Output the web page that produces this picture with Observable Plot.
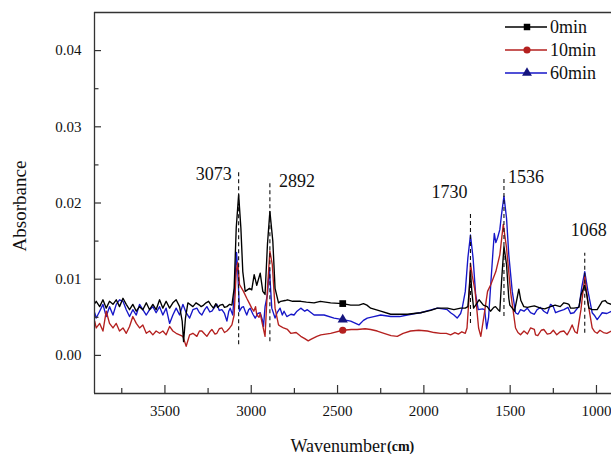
<!DOCTYPE html>
<html><head><meta charset="utf-8">
<script src="https://cdn.jsdelivr.net/npm/d3@7"></script>
<script src="https://cdn.jsdelivr.net/npm/@observablehq/plot@0.6"></script>
<style>
body{margin:0;background:#fff;}
#chart{width:611px;height:454px;}
#chart svg, #chart svg text{font-family:"Liberation Serif","DejaVu Serif","Times New Roman",Times,serif !important;}
</style>
</head><body><div id="chart"></div>
<script>
const seriesNames = ["0min", "10min", "60min"];
const seriesColors = ["#000000", "#b4201f", "#1616c8"];
const markerColors = ["#000000", "#b4201f", "#14147e"];
const seriesSymbols = ["square", "circle", "triangle"];
const markerWn = 2470;

const wn0 = [3907,3898,3878,3859,3840,3821,3801,3782,3763,3743,3724,3705,3686,3666,3647,3628,3608,3589,3570,3551,3531,3512,3493,3473,3454,3435,3415,3400,3392,3381,3367,3338,3320,3300,3290,3276,3262,3247,3233,3219,3205,3195,3180,3165,3155,3141,3125,3112,3099,3087,3073,3060,3049,3035,3010,2997,2983,2968,2948,2933,2920,2906,2892,2875,2862,2842,2829,2804,2790,2760,2713,2680,2636,2600,2540,2470,2424,2376,2350,2330,2308,2250,2192,2140,2096,2019,1960,1922,1903,1864,1845,1826,1787,1760,1745,1738,1730,1722,1712,1700,1680,1655,1633,1614,1595,1585,1570,1560,1550,1536,1521,1508,1502,1488,1475,1460,1450,1438,1421,1400,1382,1360,1324,1300,1266,1240,1210,1189,1170,1160,1150,1131,1102,1089,1068,1055,1044,1025,996,980,967,950,938,913];
const ab0 = [.0068,.0071,.0064,.0073,.0062,.0071,.0067,.0073,.0064,.0075,.0067,.0060,.0067,.0058,.0064,.0060,.0069,.0060,.0067,.0060,.0073,.0062,.0071,.0062,.0069,.0073,.0064,.0045,.0018,.0049,.0069,.0064,.0069,.0066,.0064,.0066,.0069,.0071,.0066,.0062,.0068,.0063,.0066,.0067,.0063,.0064,.0067,.0066,.0088,.0167,.0211,.0167,.0110,.0084,.0088,.0086,.0106,.0092,.0108,.0084,.0080,.0146,.0189,.0150,.0088,.0069,.0071,.0072,.0073,.0071,.0071,.0070,.0069,.0071,.0069,.0068,.0066,.0066,.0068,.0066,.0062,.0058,.0054,.0054,.0054,.0056,.0059,.0062,.0062,.0062,.0061,.0060,.0062,.0062,.0064,.0084,.0110,.0084,.0062,.0066,.0073,.0066,.0064,.0058,.0063,.0064,.0060,.0058,.0097,.0143,.0119,.0075,.0066,.0062,.0058,.0075,.0087,.0072,.0064,.0063,.0064,.0065,.0062,.0061,.0064,.0066,.0064,.0069,.0068,.0067,.0062,.0062,.0063,.0080,.0092,.0078,.0062,.0060,.0060,.0066,.0071,.0072,.0069,.0067];

const wn10 = [3907,3898,3878,3859,3840,3821,3801,3782,3763,3743,3724,3705,3686,3666,3647,3628,3608,3589,3570,3551,3531,3512,3493,3473,3454,3435,3415,3396,3377,3357,3338,3315,3300,3286,3270,3257,3240,3228,3210,3199,3185,3170,3155,3141,3125,3112,3099,3087,3078,3068,3045,3026,3010,2997,2985,2975,2968,2955,2948,2939,2920,2906,2892,2878,2862,2842,2829,2813,2790,2771,2740,2713,2690,2670,2655,2620,2597,2540,2470,2420,2386,2340,2308,2270,2231,2190,2154,2120,2077,2030,1980,1940,1903,1870,1845,1820,1800,1780,1760,1750,1740,1730,1720,1703,1683,1670,1651,1631,1612,1583,1560,1540,1521,1498,1469,1455,1440,1420,1400,1382,1360,1353,1340,1320,1305,1285,1266,1250,1230,1210,1189,1170,1155,1141,1125,1112,1090,1068,1050,1025,1010,996,980,960,940,913];
const ab10 = [.0045,.0036,.0042,.0032,.0058,.0042,.0036,.0042,.0032,.0036,.0029,.0038,.0051,.0042,.0036,.0040,.0029,.0032,.0027,.0032,.0029,.0032,.0027,.0038,.0032,.0029,.0027,.0025,.0012,.0027,.0029,.0025,.0032,.0032,.0028,.0025,.0031,.0034,.0028,.0029,.0035,.0036,.0030,.0032,.0036,.0040,.0053,.0110,.0122,.0093,.0084,.0075,.0068,.0062,.0058,.0064,.0053,.0050,.0055,.0045,.0025,.0088,.0137,.0119,.0062,.0040,.0038,.0036,.0034,.0029,.0030,.0025,.0022,.0019,.0021,.0025,.0027,.0029,.0033,.0034,.0034,.0035,.0034,.0032,.0029,.0026,.0025,.0029,.0032,.0033,.0032,.0030,.0029,.0029,.0027,.0030,.0028,.0031,.0029,.0036,.0070,.0121,.0105,.0084,.0036,.0025,.0053,.0084,.0093,.0110,.0132,.0172,.0141,.0084,.0036,.0030,.0027,.0032,.0028,.0036,.0034,.0027,.0026,.0033,.0034,.0028,.0029,.0033,.0027,.0031,.0032,.0027,.0033,.0040,.0031,.0029,.0060,.0104,.0070,.0036,.0031,.0029,.0033,.0030,.0029,.0032];

const wn60 = [3907,3898,3878,3859,3840,3821,3801,3782,3763,3743,3724,3705,3686,3666,3647,3628,3608,3589,3570,3551,3531,3512,3493,3473,3454,3435,3415,3396,3377,3357,3338,3315,3300,3286,3270,3257,3240,3228,3213,3199,3185,3170,3155,3141,3130,3122,3107,3095,3085,3078,3068,3055,3045,3035,3026,3015,3006,2990,2977,2962,2948,2936,2929,2920,2906,2895,2881,2862,2850,2833,2820,2810,2794,2770,2752,2735,2713,2690,2675,2636,2578,2520,2470,2424,2376,2350,2328,2290,2250,2192,2140,2096,2050,2019,1970,1922,1890,1864,1845,1826,1807,1787,1778,1760,1745,1730,1715,1700,1685,1660,1648,1636,1625,1612,1600,1592,1583,1572,1560,1550,1536,1521,1508,1488,1469,1455,1440,1420,1401,1382,1360,1344,1325,1305,1285,1266,1250,1237,1215,1189,1165,1150,1131,1100,1085,1068,1050,1025,1010,996,980,967,940,913];
const ab60 = [.0056,.0049,.0058,.0067,.0051,.0064,.0053,.0067,.0073,.0071,.0060,.0051,.0060,.0053,.0067,.0060,.0053,.0060,.0064,.0056,.0064,.0053,.0062,.0042,.0053,.0062,.0053,.0067,.0056,.0049,.0060,.0062,.0056,.0053,.0060,.0064,.0057,.0058,.0063,.0067,.0059,.0060,.0055,.0045,.0058,.0062,.0053,.0093,.0135,.0110,.0058,.0063,.0064,.0058,.0053,.0060,.0062,.0054,.0049,.0055,.0056,.0047,.0038,.0064,.0080,.0115,.0062,.0049,.0056,.0062,.0053,.0058,.0051,.0054,.0053,.0058,.0062,.0058,.0060,.0053,.0053,.0049,.0047,.0045,.0040,.0046,.0049,.0051,.0053,.0051,.0051,.0053,.0055,.0056,.0059,.0062,.0061,.0060,.0056,.0053,.0049,.0055,.0062,.0084,.0128,.0158,.0128,.0080,.0060,.0061,.0060,.0035,.0050,.0095,.0135,.0160,.0148,.0155,.0165,.0185,.0209,.0180,.0132,.0084,.0056,.0054,.0060,.0058,.0062,.0056,.0054,.0060,.0063,.0058,.0055,.0067,.0064,.0056,.0058,.0060,.0063,.0055,.0056,.0065,.0090,.0110,.0085,.0056,.0052,.0047,.0052,.0056,.0055,.0058];

const peakWn = [3073, 2892, 1730, 1536, 1068];
const peakLabels = ["3073", "2892", "1730", "1536", "1068"];
const peakTop = [0.0242, 0.0228, 0.0186, 0.0232, 0.0134];
const peakBottom = [0.0014, 0.0018, 0.0042, 0.0051, 0.0029];
const peakLabelY = [0.0238, 0.0228, 0.0214, 0.0234, 0.0164];
const peakAnchor = ["end", "start", "end", "start", "middle"];
const peakDx = [-7, 9, -3, 4, 4];

const xMajor = [3500, 3000, 2500, 2000, 1500, 1000];
const xMinor = [3750, 3250, 2750, 2250, 1750, 1250];
const yMajor = [0, 0.01, 0.02, 0.03, 0.04];
const yMinor = [0.005, 0.015, 0.025, 0.035];
const xDomain = [3908, 913];
const yDomain = [-0.005, 0.045];

const serif = "Liberation Serif, DejaVu Serif, Times New Roman, serif";
const W = 611, H = 454, mL = 94, mR = 0, mT = 12, mB = 61;
const plotW = W - mL - mR, plotH = H - mT - mB;

const wns = [wn0, wn10, wn60], abs = [ab0, ab10, ab60];
const series = seriesNames.map((name, k) => wns[k].map((w, i) => ({name, w, a: abs[k][i]})));
const markers = series.map((s, k) => ({...s.find(d => d.w === markerWn), k}));
const peaks = peakWn.map((w, i) => ({w, top: peakTop[i], bottom: peakBottom[i], ly: peakLabelY[i], label: peakLabels[i]}));

const drawOrder = [2, 1, 0];
const marks = [
  ...drawOrder.map(k => Plot.line(series[k], {x: "w", y: "a", stroke: seriesColors[k], strokeWidth: 1.35, strokeLinejoin: "round"})),
  ...drawOrder.map(k => Plot.dot([markers[k]], {x: "w", y: "a", symbol: seriesSymbols[k], r: k === 1 ? 3.6 : 3.8, fill: markerColors[k], stroke: "none"})),
  Plot.ruleX(peaks, {x: "w", y1: "bottom", y2: "top", stroke: "#111", strokeWidth: 1.1, strokeDasharray: "4,3"}),
  ...peaks.map((p, i) => Plot.text([p], {x: "w", y: "ly", text: "label", textAnchor: peakAnchor[i], dx: peakDx[i], fontSize: 18, fill: "#111"})),
  Plot.ruleY([yDomain[0], yDomain[1]], {stroke: "#333", strokeWidth: 1.3}),
  Plot.ruleX([xDomain[0]], {stroke: "#333", strokeWidth: 1.3}),
  Plot.tickX(xMajor, {x: d => d, stroke: "#333", strokeWidth: 1.2, insetTop: plotH - 8}),
  Plot.tickX(xMinor, {x: d => d, stroke: "#333", strokeWidth: 1.2, insetTop: plotH - 5}),
  Plot.tickY(yMajor, {y: d => d, stroke: "#333", strokeWidth: 1.2, insetRight: plotW - 7}),
  Plot.tickY(yMinor, {y: d => d, stroke: "#333", strokeWidth: 1.2, insetRight: plotW - 4.5}),
  Plot.axisX({ticks: xMajor, tickSize: 0, tickPadding: 12, tickFormat: d => String(d), label: null, fontSize: 15}),
  Plot.axisY({ticks: yMajor, tickSize: 0, tickPadding: 13, tickFormat: d => d.toFixed(2), label: null, fontSize: 15}),
  Plot.text(["Wavenumber"], {frameAnchor: "bottom", text: d => d, textAnchor: "end", lineAnchor: "bottom", dx: 33, dy: 58, fontSize: 18}),
  Plot.text(["(cm)"], {frameAnchor: "bottom", text: d => d, textAnchor: "start", lineAnchor: "bottom", dx: 34, dy: 57, fontSize: 14, fontWeight: "bold"}),
  Plot.text(["Absorbance"], {frameAnchor: "left", text: d => d, textAnchor: "middle", rotate: -90, dx: -75, dy: 3, fontSize: 19})
];

const chart = Plot.plot({
  width: W, height: H,
  marginLeft: mL, marginRight: mR, marginTop: mT, marginBottom: mB,
  style: {fontFamily: serif, fontSize: "15px", background: "#fff", color: "#111", overflow: "visible"},
  x: {domain: xDomain},
  y: {domain: yDomain},
  marks
});
document.getElementById("chart").appendChild(chart);

// Legend (inside the plot, top-right)
const svg = d3.select(chart);
const lg = svg.append("g").attr("font-family", serif).attr("font-size", 18).attr("text-anchor", "start");
const rowY = [27, 50, 73];
seriesNames.forEach((name, k) => {
  const g = lg.append("g").attr("transform", `translate(505,${rowY[k]})`);
  g.append("line").attr("x1", 0).attr("x2", 42).attr("y1", 0).attr("y2", 0)
    .attr("stroke", seriesColors[k]).attr("stroke-width", 1.3);
  const sym = {square: d3.symbolSquare, circle: d3.symbolCircle, triangle: d3.symbolTriangle}[seriesSymbols[k]];
  g.append("path").attr("d", d3.symbol(sym, k === 1 ? 40 : 42)()).attr("transform", "translate(22,0)")
    .attr("fill", markerColors[k]);
  g.append("text").attr("x", 45).attr("y", 0).attr("dy", "0.35em").attr("text-anchor", "start").attr("fill", "#111").text(name);
});
</script>
</body></html>
